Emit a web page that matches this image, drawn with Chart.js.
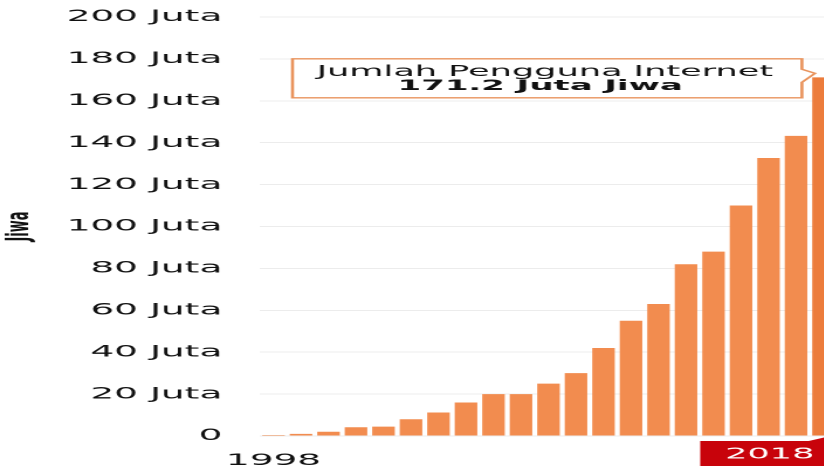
<!DOCTYPE html>
<html>
<head>
<meta charset="utf-8">
<script src="https://cdn.jsdelivr.net/npm/chart.js@4.4.1/dist/chart.umd.min.js"></script>
<style>
  html, body { margin: 0; padding: 0; background: #fff; overflow: hidden; width: 824px; height: 468px; }
  /* the chart is drawn narrow and widened horizontally */
  #wrap { position: absolute; left: 0; top: 0; width: 367px; height: 468px; transform: scaleX(2.34); transform-origin: 0 0; }
  #chart { display: block; }
</style>
</head>
<body>
<div id="wrap"><canvas id="chart" width="367" height="468"></canvas></div>
<script>
// Internet users in Indonesia, millions of people
const years = ['1998','1999','2000','2001','2002','2003','2004','2005','2006','2007','2008',
               '2009','2010','2011','2012','2013','2014','2015','2016','2017','2018'];
const users = [0.5, 1, 2, 4.2, 4.5, 8, 11.2, 16, 20, 20, 25, 30, 42, 55, 63, 82, 88, 110, 132.7, 143.26, 171.2];
const yTickValues = [0, 20, 40, 60, 80, 100, 120, 140, 160, 180, 200];
const unitLabel = 'Juta';
const axisTitle = 'Jiwa';
const calloutTitle = 'Jumlah Pengguna Internet';
const calloutValue = users[users.length - 1] + ' Juta Jiwa';

const BAR = '#F28C4F';
const BAR_LAST = '#EC7C3C';
const FONT = 'DejaVu Sans';

const annotations = {
  id: 'annotations',
  afterDraw(chart) {
    const { ctx, chartArea } = chart;
    const xs = chart.scales.x, ys = chart.scales.y;
    const last = users.length - 1;
    const cw = xs.getPixelForValue(1) - xs.getPixelForValue(0);
    const cx = xs.getPixelForValue(last);
    const barLeft = cx - cw * 0.82 / 2;

    // callout pointing at the latest bar
    const tipX = barLeft + 1.2;
    const tipY = ys.getPixelForValue(users[last]) - 4;
    const right = tipX - 5.6;
    const left = chartArea.left + 14;
    const top = tipY - 14.5;
    const bottom = tipY + 24.5;
    ctx.save();
    ctx.beginPath();
    ctx.moveTo(left, top);
    ctx.lineTo(right, top);
    ctx.lineTo(right, tipY - 4);
    ctx.lineTo(tipX, tipY);
    ctx.lineTo(right, tipY + 9);
    ctx.lineTo(right, bottom);
    ctx.lineTo(left, bottom);
    ctx.closePath();
    ctx.fillStyle = '#ffffff';
    ctx.fill();
    ctx.lineWidth = 1.3;
    ctx.strokeStyle = '#E9935C';
    ctx.stroke();
    ctx.fillStyle = '#111';
    ctx.textAlign = 'center';
    ctx.textBaseline = 'alphabetic';
    const mid = (left + right) / 2;
    ctx.font = '15px "' + FONT + '"';
    ctx.fillText(calloutTitle, mid - 1, tipY + 2.8);
    ctx.font = 'bold 14.5px "' + FONT + '"';
    ctx.fillText(calloutValue, mid - 3, tipY + 16.5);

    // highlighted year tag under the latest bar
    const b = chartArea.bottom;
    const tTop = b + 5, tBot = b + 30;
    ctx.beginPath();
    ctx.moveTo(cx - 52.7, tTop);
    ctx.lineTo(barLeft - 1.5, tTop);
    ctx.lineTo(cx + 3, tTop - 5);
    ctx.lineTo(cx + 3, tBot);
    ctx.lineTo(cx - 52.7, tBot);
    ctx.closePath();
    ctx.fillStyle = '#C8030B';
    ctx.fill();
    ctx.fillStyle = '#ffffff';
    ctx.font = '15px "' + FONT + '"';
    ctx.textBaseline = 'middle';
    ctx.fillText(years[last], cx - 23, b + 18.5);
    ctx.restore();
  }
};

new Chart(document.getElementById('chart'), {
  type: 'bar',
  data: {
    labels: years,
    datasets: [{
      data: users,
      backgroundColor: users.map((v, i) => i === users.length - 1 ? BAR_LAST : BAR),
      borderWidth: 0,
      barPercentage: 0.82,
      categoryPercentage: 1
    }]
  },
  options: {
    responsive: false,
    animation: false,
    devicePixelRatio: 2,
    layout: { padding: { top: 17, right: 3, bottom: 0, left: 0 } },
    plugins: { legend: { display: false }, tooltip: { enabled: false } },
    scales: {
      x: {
        grid: { display: false, drawTicks: false },
        border: { display: false },
        ticks: {
          autoSkip: false,
          maxRotation: 0,
          minRotation: 0,
          padding: 15,
          color: '#111',
          font: { family: FONT, size: 16 },
          callback: (v, i) => (i === 0 ? years[0] : '')
        },
        afterFit: s => { s.height = 32; }
      },
      y: {
        min: 0,
        max: 200,
        afterBuildTicks: s => { s.ticks = yTickValues.map(v => ({ value: v })); },
        grid: { color: '#ececec', lineWidth: 1, drawTicks: true, tickLength: 14, tickColor: 'rgba(0,0,0,0)' },
        border: { display: false },
        ticks: {
          padding: 2,
          color: '#111',
          font: { family: FONT, size: 16 },
          callback: v => (v === 0 ? '0' : v + ' ' + unitLabel)
        },
        title: {
          display: true,
          text: axisTitle,
          color: '#111',
          font: { family: FONT, size: 13, weight: 'bold' },
          padding: { top: 1, bottom: 4 }
        },
        afterFit: s => { s.width = 111; }
      }
    }
  },
  plugins: [annotations]
});
</script>
</body>
</html>
